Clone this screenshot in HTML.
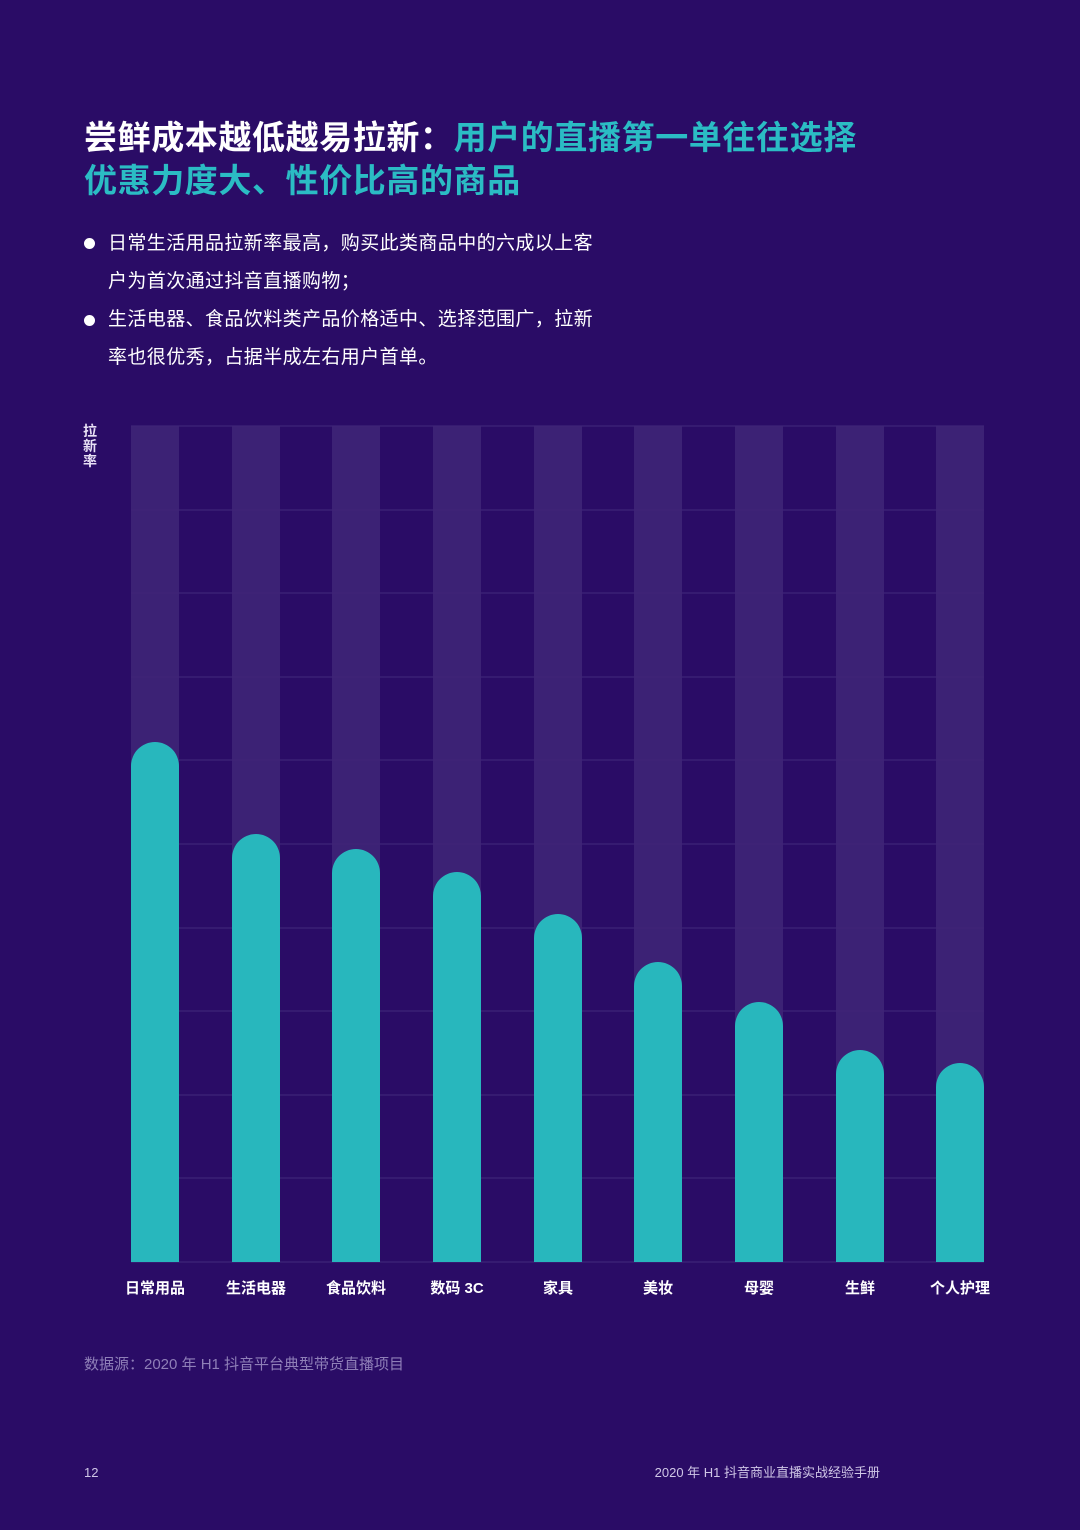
<!DOCTYPE html>
<html><head><meta charset="utf-8"><style>
body{margin:0;width:1080px;height:1530px;background:#2a0c66;font-family:"Liberation Sans","Noto Sans CJK SC",sans-serif;position:relative;overflow:hidden;color:#fff}
.t{position:absolute;left:84px;font-size:33px;letter-spacing:0.6px;font-weight:bold;line-height:44px;white-space:nowrap}
.b{position:absolute;font-size:19px;letter-spacing:0.4px;line-height:38px;color:#fff;white-space:nowrap}
.dot{position:absolute;left:84px;width:11px;height:11px;border-radius:50%;background:#fff}
</style></head><body>
<div class="t" style="top:116px">尝鲜成本越低越易拉新：<span style="color:#2bbcc4">用户的直播第一单往往选择</span></div>
<div class="t" style="top:159px;color:#2bbcc4">优惠力度大、性价比高的商品</div>
<div class="dot" style="top:238px"></div>
<div class="dot" style="top:315px"></div>
<div class="b" style="left:108px;top:225px">日常生活用品拉新率最高，购买此类商品中的六成以上客<br>户为首次通过抖音直播购物；<br>生活电器、食品饮料类产品价格适中、选择范围广，拉新<br>率也很优秀，占据半成左右用户首单。</div>
<div style="position:absolute;left:83px;top:424px;width:16px;font-size:14px;font-weight:bold;line-height:15px;color:#e8e0f5">拉新率</div>
<svg style="position:absolute;left:0;top:0" width="1080" height="1530">
<g fill="#3c2275">
<rect x="131" y="426" width="48" height="836"/><rect x="232" y="426" width="48" height="836"/><rect x="332" y="426" width="48" height="836"/><rect x="433" y="426" width="48" height="836"/><rect x="534" y="426" width="48" height="836"/><rect x="634" y="426" width="48" height="836"/><rect x="735" y="426" width="48" height="836"/><rect x="836" y="426" width="48" height="836"/><rect x="936" y="426" width="48" height="836"/>
</g>
<g stroke="#3f2478" stroke-width="1.2">
<line x1="131" x2="984" y1="426" y2="426"/><line x1="131" x2="984" y1="510" y2="510"/><line x1="131" x2="984" y1="593" y2="593"/><line x1="131" x2="984" y1="677" y2="677"/><line x1="131" x2="984" y1="760" y2="760"/><line x1="131" x2="984" y1="844" y2="844"/><line x1="131" x2="984" y1="928" y2="928"/><line x1="131" x2="984" y1="1011" y2="1011"/><line x1="131" x2="984" y1="1095" y2="1095"/><line x1="131" x2="984" y1="1178" y2="1178"/><line x1="131" x2="984" y1="1262" y2="1262"/>
</g>
<g fill="#28b7bd">
<path d="M131 1262V766a24 24 0 0 1 48 0V1262Z"/>
<path d="M232 1262V858a24 24 0 0 1 48 0V1262Z"/>
<path d="M332 1262V873a24 24 0 0 1 48 0V1262Z"/>
<path d="M433 1262V896a24 24 0 0 1 48 0V1262Z"/>
<path d="M534 1262V938a24 24 0 0 1 48 0V1262Z"/>
<path d="M634 1262V986a24 24 0 0 1 48 0V1262Z"/>
<path d="M735 1262V1026a24 24 0 0 1 48 0V1262Z"/>
<path d="M836 1262V1074a24 24 0 0 1 48 0V1262Z"/>
<path d="M936 1262V1087a24 24 0 0 1 48 0V1262Z"/>
</g>
<g fill="#fff" font-size="15" font-weight="bold" text-anchor="middle" font-family="Liberation Sans,Noto Sans CJK SC,sans-serif">
<text x="155" y="1293">日常用品</text><text x="256" y="1293">生活电器</text><text x="356" y="1293">食品饮料</text><text x="457" y="1293">数码 3C</text><text x="558" y="1293">家具</text><text x="658" y="1293">美妆</text><text x="759" y="1293">母婴</text><text x="860" y="1293">生鲜</text><text x="960" y="1293">个人护理</text>
</g>
<text x="84" y="1369" fill="#8f7fb8" font-size="15" font-family="Liberation Sans,Noto Sans CJK SC,sans-serif">数据源：2020 年 H1 抖音平台典型带货直播项目</text>
<text x="84" y="1477" fill="#cfc6e6" font-size="13" font-family="Liberation Sans,sans-serif">12</text>
<text x="880" y="1477" fill="#cfc6e6" font-size="13" text-anchor="end" font-family="Liberation Sans,Noto Sans CJK SC,sans-serif">2020 年 H1 抖音商业直播实战经验手册</text>
</svg>
</body></html>
